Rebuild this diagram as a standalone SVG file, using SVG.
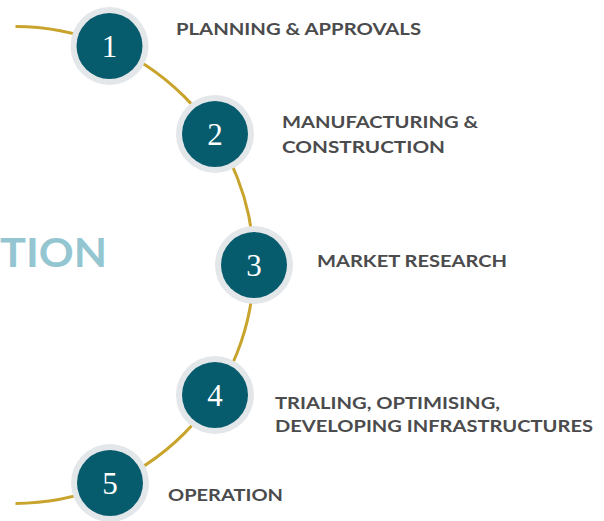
<svg xmlns="http://www.w3.org/2000/svg" width="604" height="521" viewBox="0 0 604 521">
<style>
.ring{fill:#e3e7ea}
.core{fill:#065b6d}
.num{font-family:"Liberation Serif",serif;font-size:31px;fill:#ffffff;text-anchor:middle}
.lbl{font-family:"Lato","Liberation Sans",sans-serif;font-weight:bold;font-size:17.5px;fill:#4b4b4d}
.conn{fill:none;stroke:#c9a42c;stroke-width:3}
</style>
<rect width="604" height="521" fill="#ffffff"/>
<text x="107" y="267" font-family="Lato,'Liberation Sans',sans-serif" font-size="40" font-weight="bold" fill="#94c6d2" text-anchor="end" textLength="107" lengthAdjust="spacingAndGlyphs">TION</text>
<g id="connectors">
<path class="conn" d="M15.5 26.5 A238.5 238.5 0 0 1 15.5 503.5"/>
</g>
<g id="node1">
<circle class="ring" cx="109.5" cy="46" r="39"/>
<circle class="core" cx="109.5" cy="46" r="33"/>
<text class="num" x="109.5" y="57">1</text>
<text class="lbl" x="176" y="35" textLength="245" lengthAdjust="spacingAndGlyphs">PLANNING &amp; APPROVALS</text>
</g>
<g id="node2">
<circle class="ring" cx="215" cy="134" r="39"/>
<circle class="core" cx="215" cy="134" r="33"/>
<text class="num" x="215" y="145">2</text>
<text class="lbl" x="282" y="128" textLength="196" lengthAdjust="spacingAndGlyphs">MANUFACTURING &amp;</text>
<text class="lbl" x="282" y="153" textLength="163" lengthAdjust="spacingAndGlyphs">CONSTRUCTION</text>
</g>
<g id="node3">
<circle class="ring" cx="254" cy="265" r="39"/>
<circle class="core" cx="254" cy="265" r="33"/>
<text class="num" x="254" y="276">3</text>
<text class="lbl" x="317" y="267" textLength="190" lengthAdjust="spacingAndGlyphs">MARKET RESEARCH</text>
</g>
<g id="node4">
<circle class="ring" cx="215" cy="395" r="39"/>
<circle class="core" cx="215" cy="395" r="33"/>
<text class="num" x="215" y="406">4</text>
<text class="lbl" x="275" y="409" textLength="225" lengthAdjust="spacingAndGlyphs">TRIALING, OPTIMISING,</text>
<text class="lbl" x="275" y="432" textLength="318" lengthAdjust="spacingAndGlyphs">DEVELOPING INFRASTRUCTURES</text>
</g>
<g id="node5">
<circle class="ring" cx="110" cy="483" r="39"/>
<circle class="core" cx="110" cy="483" r="33"/>
<text class="num" x="110" y="494">5</text>
<text class="lbl" x="168" y="501" textLength="115" lengthAdjust="spacingAndGlyphs">OPERATION</text>
</g>
</svg>
